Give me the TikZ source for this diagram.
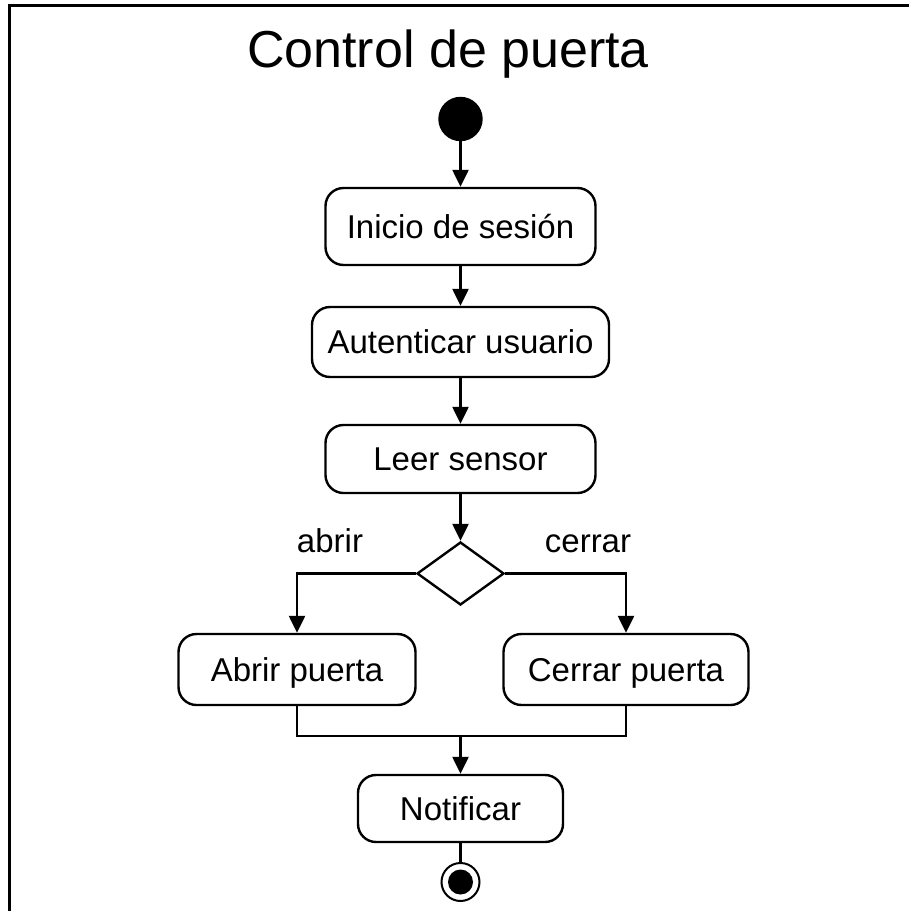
\documentclass[tikz,border=0pt]{standalone}
\usepackage{fontspec}
\setmainfont{Liberation Sans}
\usetikzlibrary{shapes.geometric,arrows.meta,calc}
\begin{document}
\begin{tikzpicture}[x=1pt,y=-1pt,
  line width=2.4pt,
  actbox/.style={draw, rounded corners=18pt, inner sep=0pt,
     font=\fontsize{33}{40}\selectfont, text height=23.6pt, text depth=0pt},
  arr/.style={-{Triangle[length=17pt,width=16pt]}},
  lbl/.style={font=\fontsize{33}{40}\selectfont, anchor=base}
]
\useasboundingbox (0,0) rectangle (909,911);
% frame
\draw[line width=3pt] (9,915) -- (9,5.5) -- (915,5.5);
% title
\node[anchor=base, font=\fontsize{52}{60}\selectfont] (title) at (448,67) {Control de puerta};
% start
\node[circle, fill=black, draw=black, minimum size=42pt, inner sep=0pt] (start) at (460.5,119) {};
% activities
\node[actbox, minimum width=270pt, minimum height=77pt] (inicio) at (460.5,226.5) {Inicio de sesión};
\node[actbox, minimum width=297pt, minimum height=70pt] (aut) at (460.5,342) {Autenticar usuario};
\node[actbox, minimum width=270pt, minimum height=68pt] (leer) at (460.5,459) {Leer sensor};
\node[draw, diamond, minimum width=87pt, minimum height=63pt, inner sep=0pt] (dec) at (460.5,573.5) {};
\node[actbox, minimum width=237pt, minimum height=71pt] (abrir) at (297,669.5) {Abrir puerta};
\node[actbox, minimum width=245pt, minimum height=71pt] (cerrar) at (626,669.5) {Cerrar puerta};
\node[actbox, minimum width=205pt, minimum height=67pt] (notif) at (460.5,808.5) {Notificar};
% end
\node[circle, draw=black, line width=2pt, minimum size=38pt, inner sep=0pt] (fin) at (460.5,882) {};
\node[circle, fill=black, minimum size=25pt, inner sep=0pt] (finin) at (fin.center) {};
% labels
\node[lbl] (labrir) at (330,552) {abrir};
\node[lbl] (lcerrar) at (588,552) {cerrar};
% connectors
\draw[arr] (start) -- (inicio);
\draw[arr] (inicio) -- (aut);
\draw[arr] (aut) -- (leer);
\draw[arr] (leer) -- (dec.north);
\draw[arr] (dec.west) -| (abrir.north);
\draw[arr] (dec.east) -| (cerrar.north);
\coordinate (m) at (460.5,736);
\draw (abrir.south) -- (abrir.south |- m) -- (cerrar.south |- m) -- (cerrar.south);
\draw[arr] (m) -- (notif.north);
\draw (notif.south) -- (fin.north);
\end{tikzpicture}
\end{document}
